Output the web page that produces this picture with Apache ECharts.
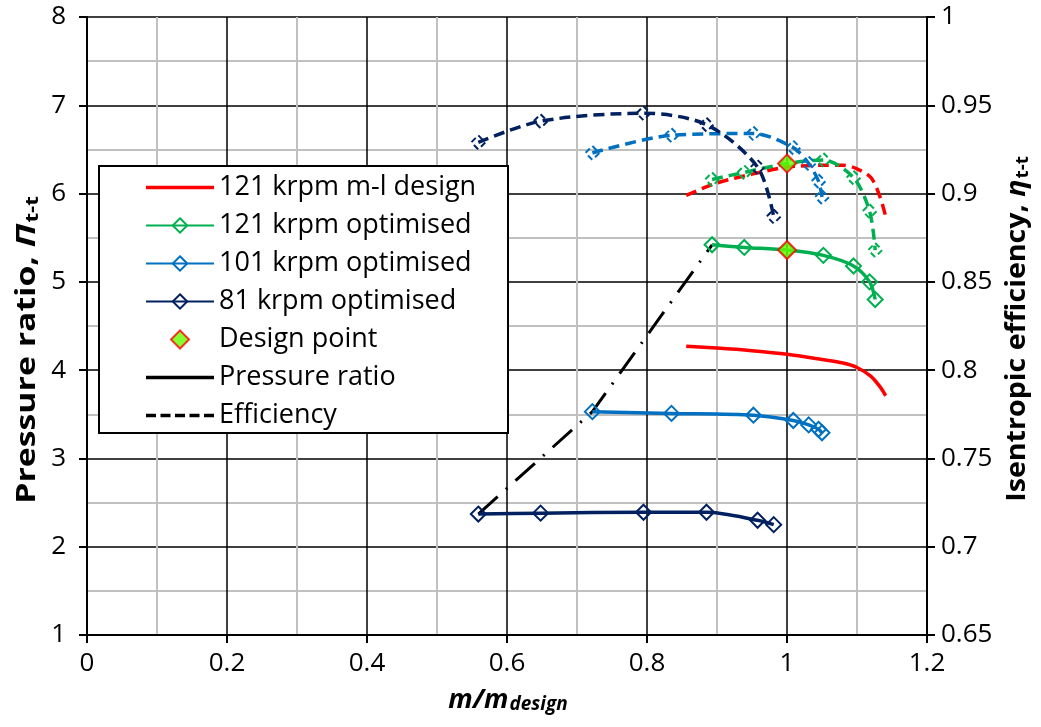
<!DOCTYPE html>
<html>
<head>
<meta charset="utf-8">
<script src="https://cdn.jsdelivr.net/npm/echarts@6/dist/echarts.min.js"></script>
<style>
  html, body { margin: 0; padding: 0; background: #fff; }
  #chart { width: 1041px; height: 727px; }
</style>
</head>
<body>
<div id="chart"></div>
<script>
// m/m_design for each speed line
var mlX = [0.856, 0.90, 0.95, 1.0, 1.05, 1.08, 1.10, 1.12, 1.133, 1.141];
var mlPR = [4.27, 4.25, 4.22, 4.18, 4.12, 4.08, 4.03, 3.93, 3.81, 3.71];
var mlEff = [0.899, 0.906, 0.911, 0.915, 0.916, 0.916, 0.914, 0.909, 0.898, 0.887];

var opt121X = [0.893, 0.939, 1.0, 1.052, 1.095, 1.118, 1.126];
var opt121PR = [5.42, 5.39, 5.36, 5.30, 5.18, 5.00, 4.80];
var opt121Eff = [0.908, 0.912, 0.917, 0.919, 0.909, 0.890, 0.868];

var opt101X = [0.722, 0.835, 0.952, 1.009, 1.031, 1.045, 1.05];
var opt101PR = [3.53, 3.51, 3.49, 3.43, 3.38, 3.33, 3.29];
var opt101Eff = [0.923, 0.933, 0.934, 0.926, 0.917, 0.907, 0.898];

var opt81X = [0.559, 0.648, 0.795, 0.885, 0.958, 0.981];
var opt81PR = [2.37, 2.38, 2.39, 2.39, 2.30, 2.25];
var opt81Eff = [0.929, 0.941, 0.9455, 0.939, 0.915, 0.887];

var designX = 1.0;
var designPR = 5.36;
var designEff = 0.917;

// surge line through the first point of each optimised line
var surgeX = [0.559, 0.722, 0.893];
var surgePR = [2.37, 3.53, 5.42];

var RED = '#ff0000', GREEN = '#00b050', BLUE = '#0070c0', NAVY = '#002060', LIME = '#66ff00';
var FONT = 'Open Sans';

var lineIcon = 'path://M0,0H68V3.5H0Z';
var dashIcon = 'path://M0,0H10V3.5H0Z M14.5,0H24.5V3.5H14.5Z M29,0H39V3.5H29Z M43.5,0H53.5V3.5H43.5Z M58,0H68V3.5H58Z';
var diamondIcon = 'path://M10,0L20,10L10,20L0,10Z';

var legendData = [
	{ name: '121 krpm m-l design', icon: lineIcon, itemStyle: { color: RED, borderWidth: 0 } },
	{ name: '121 krpm optimised' },
	{ name: '101 krpm optimised' },
	{ name: '81 krpm optimised' },
	{ name: 'Design point', icon: diamondIcon, itemStyle: { color: LIME, borderColor: RED, borderWidth: 2 } },
	{ name: 'Pressure ratio', icon: lineIcon, itemStyle: { color: '#000', borderWidth: 0 } },
	{ name: 'Efficiency', icon: dashIcon, itemStyle: { color: '#000', borderWidth: 0 } }
];

function pairs(xs, ys) {
	var out = [];
	for (var i = 0; i < xs.length; i++) {
		out.push([xs[i], ys[i]]);
	}
	return out;
}

function prSeries(name, xs, ys, color, withSymbol) {
	return {
		name: name,
		type: 'line',
		xAxisIndex: 0,
		yAxisIndex: 0,
		data: pairs(xs, ys),
		smooth: 0.3,
		symbol: withSymbol ? 'diamond' : 'none',
		symbolSize: 15,
		showAllSymbol: true,
		lineStyle: { color: color, width: 3.5 },
		itemStyle: { color: 'transparent', borderColor: color, borderWidth: 2 },
		z: 3
	};
}

function effSeries(name, xs, ys, color, withSymbol) {
	return {
		name: name,
		type: 'line',
		xAxisIndex: 0,
		yAxisIndex: 1,
		data: pairs(xs, ys),
		smooth: 0.3,
		symbol: withSymbol ? 'diamond' : 'none',
		symbolSize: 14,
		showAllSymbol: true,
		lineStyle: { color: color, width: 3.5, type: [11, 6] },
		itemStyle: { color: 'transparent', borderColor: color, borderWidth: 2, borderType: [6, 4] },
		z: 3
	};
}

var chart = echarts.init(document.getElementById('chart'));

var option = {
	backgroundColor: '#fff',
	animation: false,
	textStyle: { fontFamily: FONT },
	grid: { left: 87, right: 114, top: 17, bottom: 92 },
	legend: {
		data: legendData,
		orient: 'vertical',
		left: 140,
		top: 169,
		itemWidth: 68,
		itemHeight: 18,
		itemGap: 11,
		textStyle: { fontFamily: FONT, fontSize: 27, color: '#000' },
		z: 10
	},
	xAxis: {
		type: 'value',
		min: 0,
		max: 1.2,
		interval: 0.2,
		axisLine: { onZero: false, lineStyle: { color: '#000', width: 2 } },
		axisTick: { show: true, length: 8, lineStyle: { color: '#000', width: 2 } },
		axisLabel: { fontSize: 26, color: '#000', margin: 16, formatter: function (v) { return String(+v.toFixed(1)); } },
		splitLine: { show: true, lineStyle: { color: '#000', width: 1.5 } },
		minorTick: { show: false, splitNumber: 2 },
		minorSplitLine: { show: true, lineStyle: { color: '#c0c0c0', width: 2 } }
	},
	yAxis: [
		{
			type: 'value',
			min: 1,
			max: 8,
			interval: 1,
			position: 'left',
			axisLine: { show: true, onZero: false, lineStyle: { color: '#000', width: 2 } },
			axisTick: { show: true, length: 8, lineStyle: { color: '#000', width: 2 } },
			axisLabel: { fontSize: 26, color: '#000', margin: 21 },
			splitLine: { show: true, lineStyle: { color: '#000', width: 1.5 } },
			minorTick: { show: false, splitNumber: 2 },
			minorSplitLine: { show: true, lineStyle: { color: '#c0c0c0', width: 2 } }
		},
		{
			type: 'value',
			min: 0.65,
			max: 1,
			interval: 0.05,
			position: 'right',
			axisLine: { show: true, onZero: false, lineStyle: { color: '#000', width: 2 } },
			axisTick: { show: true, length: 8, lineStyle: { color: '#000', width: 2 } },
			axisLabel: { fontSize: 26, color: '#000', margin: 14, formatter: function (v) { return String(+v.toFixed(2)); } },
			splitLine: { show: false }
		}
	],
	graphic: [
		{
			type: 'rect',
			shape: { x: 99, y: 166, width: 409, height: 267 },
			style: { fill: '#fff', stroke: '#000', lineWidth: 2 },
			z: 5
		},
		{
			type: 'text',
			x: 508,
			y: 700,
			style: {
				text: '{m|m/m}{s|design}',
				align: 'center',
				verticalAlign: 'middle',
				rich: {
					m: { fontFamily: FONT, fontSize: 27, fontWeight: 'bold', fontStyle: 'italic', lineHeight: 28 },
					s: { fontFamily: FONT, fontSize: 19, fontWeight: 'bold', fontStyle: 'italic', lineHeight: 12, verticalAlign: 'bottom', padding: [9, 0, 0, 1] }
				}
			}
		},
		{
			type: 'text',
			x: 28,
			y: 350,
			rotation: Math.PI / 2,
			scaleX: 1.3,
			style: {
				text: '{a|Pressure ratio, }{g|Π}{s|t-t}',
				align: 'center',
				verticalAlign: 'middle',
				rich: {
					a: { fontFamily: FONT, fontSize: 26, fontWeight: 'bold', lineHeight: 28 },
					g: { fontFamily: FONT, fontSize: 26, fontWeight: 'bold', fontStyle: 'italic', lineHeight: 28 },
					s: { fontFamily: FONT, fontSize: 17, fontWeight: 'bold', lineHeight: 12, verticalAlign: 'bottom', padding: [8, 0, 0, 1] }
				}
			}
		},
		{
			type: 'text',
			x: 1018,
			y: 329,
			rotation: Math.PI / 2,
			scaleX: 1.1,
			style: {
				text: '{a|Isentropic efficiency, }{g|η}{s|t-t}',
				align: 'center',
				verticalAlign: 'middle',
				rich: {
					a: { fontFamily: FONT, fontSize: 26, fontWeight: 'bold', lineHeight: 28 },
					g: { fontFamily: FONT, fontSize: 26, fontWeight: 'bold', fontStyle: 'italic', lineHeight: 28 },
					s: { fontFamily: FONT, fontSize: 17, fontWeight: 'bold', lineHeight: 12, verticalAlign: 'bottom', padding: [8, 0, 0, 1] }
				}
			}
		}
	],
	series: [
		prSeries('121 krpm m-l design', mlX, mlPR, RED, false),
		prSeries('121 krpm optimised', opt121X, opt121PR, GREEN, true),
		prSeries('101 krpm optimised', opt101X, opt101PR, BLUE, true),
		prSeries('81 krpm optimised', opt81X, opt81PR, NAVY, true),
		effSeries('121 krpm m-l design', mlX, mlEff, RED, false),
		effSeries('121 krpm optimised', opt121X, opt121Eff, GREEN, true),
		effSeries('101 krpm optimised', opt101X, opt101Eff, BLUE, true),
		effSeries('81 krpm optimised', opt81X, opt81Eff, NAVY, true),
		{
			name: 'surge',
			type: 'line',
			data: pairs(surgeX, surgePR),
			symbol: 'none',
			lineStyle: { color: '#000', width: 3, type: [26, 11, 2, 11] },
			z: 2
		},
		{
			name: 'Design point',
			type: 'scatter',
			xAxisIndex: 0,
			yAxisIndex: 0,
			data: [[designX, designPR]],
			symbol: 'diamond',
			symbolSize: 18,
			itemStyle: { color: LIME, borderColor: RED, borderWidth: 2 },
			z: 6
		},
		{
			name: 'Design point',
			type: 'scatter',
			xAxisIndex: 0,
			yAxisIndex: 1,
			data: [[designX, designEff]],
			symbol: 'diamond',
			symbolSize: 18,
			itemStyle: { color: LIME, borderColor: RED, borderWidth: 2 },
			z: 6
		},
		{
			name: 'Pressure ratio',
			type: 'line',
			data: [],
			symbol: 'none',
			lineStyle: { color: '#000', width: 3.5 },
			itemStyle: { color: '#000' }
		},
		{
			name: 'Efficiency',
			type: 'line',
			data: [],
			symbol: 'none',
			lineStyle: { color: '#000', width: 3.5, type: [11, 6] },
			itemStyle: { color: '#000' }
		}
	]
};

chart.setOption(option);
</script>
</body>
</html>
